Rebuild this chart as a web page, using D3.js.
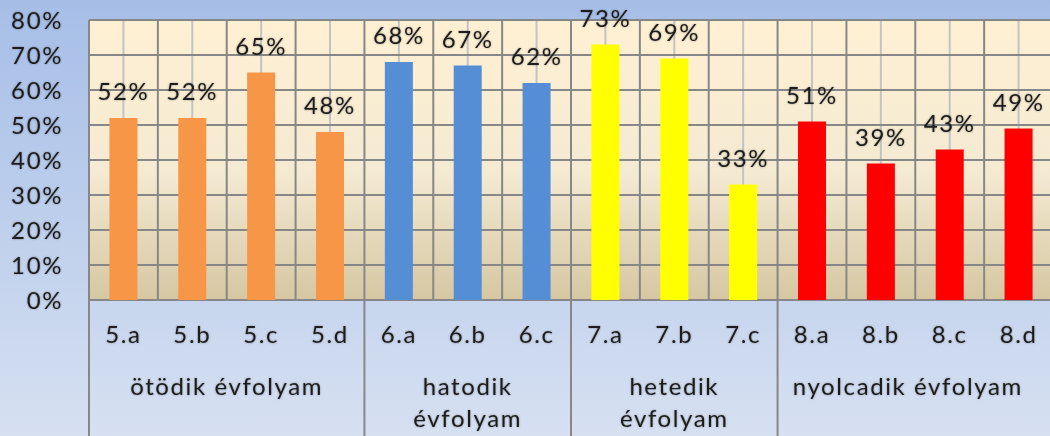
<!DOCTYPE html>
<html>
<head>
<meta charset="utf-8">
<script src="https://cdn.jsdelivr.net/npm/d3@7"></script>
<style>
html,body{margin:0;padding:0;overflow:hidden;}
svg{display:block;}
text{font-family:Lato,"Open Sans",sans-serif;fill:#1e1e1e;}
</style>
</head>
<body>
<script>
const categories = ["5.a","5.b","5.c","5.d","6.a","6.b","6.c","7.a","7.b","7.c","8.a","8.b","8.c","8.d"];
const values = [52,52,65,48,68,67,62,73,69,33,51,39,43,49];
const groupLabels = [["ötödik évfolyam"],["hatodik","évfolyam"],["hetedik","évfolyam"],["nyolcadik évfolyam"]];
const groupSizes = [4,3,3,4];
const groupColors = ["#f79646","#558ed5","#ffff00","#ff0000"];
const yTicks = [0,10,20,30,40,50,60,70,80];

(function(){
const W = 1050, H = 436;
const mLeft = 89, mRight = 1053, mTop = 20, mBottom = 300;

const svg = d3.select("body").append("svg").attr("width", W).attr("height", H);
const defs = svg.append("defs");
const bg = defs.append("linearGradient").attr("id","bg").attr("x1",0).attr("y1",0).attr("x2",0).attr("y2",1);
bg.append("stop").attr("offset","0%").attr("stop-color","#a6bee7");
bg.append("stop").attr("offset","100%").attr("stop-color","#d6e0f1");
const pg = defs.append("linearGradient").attr("id","pg").attr("x1",0).attr("y1",0).attr("x2",0).attr("y2",1);
pg.append("stop").attr("offset","0%").attr("stop-color","#fff0d3");
pg.append("stop").attr("offset","55%").attr("stop-color","#f4ead2");
pg.append("stop").attr("offset","100%").attr("stop-color","#d6c7a2");
const sh = defs.append("filter").attr("id","sh").attr("x","-10%").attr("y","-20%").attr("width","120%").attr("height","140%");
sh.append("feGaussianBlur").attr("in","SourceAlpha").attr("stdDeviation",1.2).attr("result","b");
sh.append("feComponentTransfer").attr("in","b").attr("result","b2").append("feFuncA").attr("type","linear").attr("slope",0.35);
const m = sh.append("feMerge"); m.append("feMergeNode").attr("in","b2"); m.append("feMergeNode").attr("in","SourceGraphic");

svg.append("rect").attr("width",W).attr("height",H).attr("fill","url(#bg)");

const x = d3.scaleBand().domain(categories).range([mLeft,mRight]).paddingInner(0.593).paddingOuter(0.593/2);
const y = d3.scaleLinear().domain([0,80]).range([mBottom,mTop]);
const step = x.step();

const catColor = [];
groupSizes.forEach((n,gi)=>{ for(let i=0;i<n;i++) catColor.push(groupColors[gi]); });

svg.append("rect").attr("x",mLeft).attr("y",mTop).attr("width",mRight-mLeft).attr("height",mBottom-mTop).attr("fill","url(#pg)");

svg.append("g").selectAll("line").data(categories).join("line")
  .attr("x1",d=>x(d)+x.bandwidth()/2).attr("x2",d=>x(d)+x.bandwidth()/2)
  .attr("y1",mTop).attr("y2",mBottom)
  .attr("stroke","#c3c3c3").attr("stroke-width",2);

svg.append("g").selectAll("line").data(yTicks).join("line")
  .attr("x1",mLeft).attr("x2",mRight).attr("y1",d=>y(d)).attr("y2",d=>y(d))
  .attr("stroke","#878787").attr("stroke-width",2);

const bounds = categories.map(c=>x(c)-step*x.paddingInner()/2);
bounds.push(mRight);
svg.append("g").selectAll("line").data(bounds).join("line")
  .attr("x1",d=>d).attr("x2",d=>d).attr("y1",mTop).attr("y2",mBottom)
  .attr("stroke","#878787").attr("stroke-width",2);

svg.append("g").selectAll("rect").data(values).join("rect")
  .attr("x",(d,i)=>x(categories[i])).attr("width",x.bandwidth())
  .attr("y",d=>y(d)).attr("height",d=>y(0)-y(d))
  .attr("fill",(d,i)=>catColor[i]);

svg.append("g").attr("filter","url(#sh)").selectAll("text").data(values).join("text")
  .attr("x",(d,i)=>x(categories[i])+x.bandwidth()/2)
  .attr("y",d=>y(d)-18)
  .attr("text-anchor","middle").attr("font-size",24).attr("letter-spacing",1.6)
  .text(d=>d+"%");

svg.append("g").attr("filter","url(#sh)").selectAll("text").data(yTicks).join("text")
  .attr("x",mLeft-26).attr("y",d=>y(d)+8.5)
  .attr("text-anchor","end").attr("font-size",24).attr("letter-spacing",1.6)
  .text(d=>d+"%");

let acc = 0;
const sepX = [mLeft];
groupSizes.forEach(n=>{ acc+=n; sepX.push(acc<categories.length ? x(categories[acc])-step*x.paddingInner()/2 : mRight); });
svg.append("line").attr("x1",mLeft).attr("x2",mLeft).attr("y1",mTop).attr("y2",H).attr("stroke","#878787").attr("stroke-width",2);
svg.append("g").selectAll("line").data(sepX).join("line")
  .attr("x1",d=>d).attr("x2",d=>d).attr("y1",mBottom).attr("y2",H)
  .attr("stroke","#878787").attr("stroke-width",2);

svg.append("g").attr("filter","url(#sh)").selectAll("text").data(categories).join("text")
  .attr("x",d=>x(d)+x.bandwidth()/2).attr("y",343)
  .attr("text-anchor","middle").attr("font-size",24).attr("letter-spacing",1.6)
  .text(d=>d);

const gl = svg.append("g").attr("filter","url(#sh)");
groupLabels.forEach((lines,gi)=>{
  const x0 = sepX[gi], x1 = Math.min(sepX[gi+1], W-12);
  const t = gl.append("text").attr("text-anchor","middle").attr("font-size",24).attr("letter-spacing",1.6);
  lines.forEach((ln,li)=>{
    t.append("tspan").attr("x",(x0+x1)/2).attr("y",395+li*32).text(ln);
  });
});
})();
</script>
</body>
</html>
